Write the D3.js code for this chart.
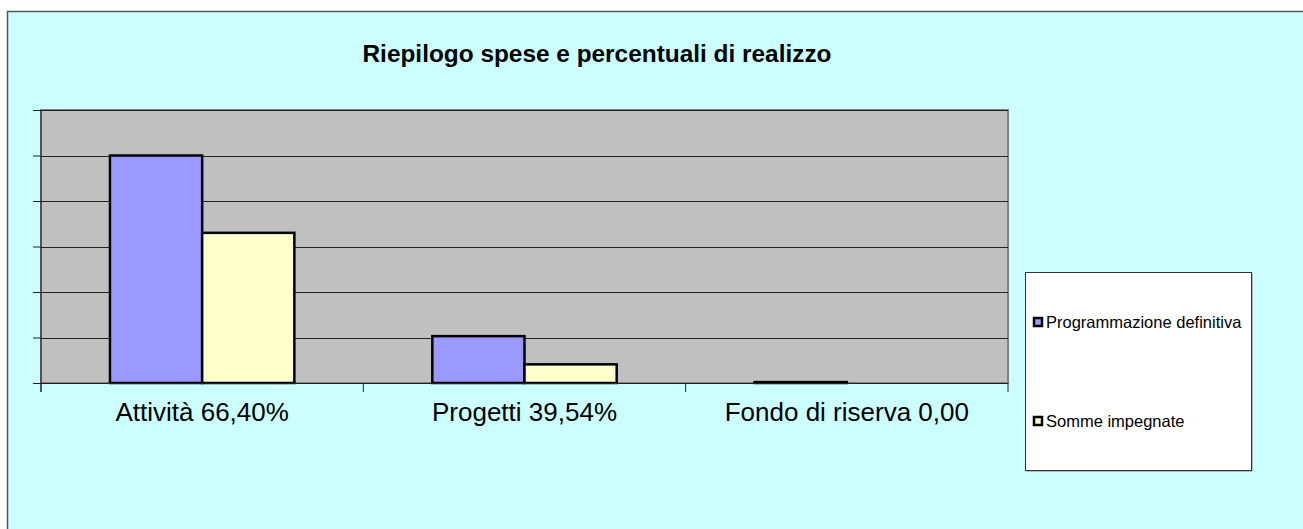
<!DOCTYPE html>
<html>
<head>
<meta charset="utf-8">
<script src="https://cdn.jsdelivr.net/npm/d3@7"></script>
<style>
  html, body { margin: 0; padding: 0; background: #fff; overflow: hidden; }
  svg { display: block; font-family: "Liberation Sans", Arial, sans-serif; }
</style>
</head>
<body>
<svg id="chart" width="1303" height="529"></svg>
<script>
// categories and series values (axis units, no labels shown)
const categories = ['Attività 66,40%', 'Progetti 39,54%', 'Fondo di riserva 0,00']
const seriesNames = ['Programmazione definitiva', 'Somme impegnate']
const programmazione = [5.0, 1.03, 0.02]
const impegnate = [3.3, 0.41, 0]
const yTicks = [0, 1, 2, 3, 4, 5, 6]

const colors = ['#9999ff', '#ffffcc']

const svg = d3.select('#chart')

// outer chart area
svg.append('rect')
  .attr('x', 7.5).attr('y', 11.5)
  .attr('width', 1400).attr('height', 600)
  .attr('fill', '#ccffff')
  .attr('stroke', '#555').attr('stroke-width', 1.5)

// title
svg.append('text')
  .attr('x', 597).attr('y', 62)
  .attr('text-anchor', 'middle')
  .attr('font-size', '24.4px')
  .attr('font-weight', 'bold')
  .text('Riepilogo spese e percentuali di realizzo')

const plot = { left: 41, right: 1008, top: 110, bottom: 383 }

const x0 = d3.scaleBand()
  .domain(categories)
  .range([plot.left, plot.right])
  .paddingInner(0.428)
  .paddingOuter(0.214)

const x1 = d3.scaleBand()
  .domain(seriesNames)
  .range([0, x0.bandwidth()])

const y = d3.scaleLinear()
  .domain([0, 6])
  .range([plot.bottom, plot.top])

// plot background
svg.append('rect')
  .attr('x', plot.left).attr('y', plot.top)
  .attr('width', plot.right - plot.left).attr('height', plot.bottom - plot.top)
  .attr('fill', '#c0c0c0')
  .attr('stroke', '#808080').attr('stroke-width', 2)

// gridlines
svg.append('g')
  .selectAll('line')
  .data(yTicks.slice(1))
  .join('line')
  .attr('x1', plot.left).attr('x2', plot.right)
  .attr('y1', (d) => Math.round(y(d)) + 0.5).attr('y2', (d) => Math.round(y(d)) + 0.5)
  .attr('stroke', '#222').attr('stroke-width', 1)

// y axis with no labels
const yAxis = svg.append('g')
  .attr('transform', `translate(${plot.left},0)`)
  .call(d3.axisLeft(y).tickValues(yTicks).tickSize(8).tickFormat(''))
yAxis.select('.domain').attr('stroke', '#222').attr('d', `M0,${plot.top}V${plot.bottom + 9}`)
yAxis.selectAll('.tick line').attr('stroke', '#222')

// bars
const rows = categories.map((c, i) => ({ cat: c, vals: [programmazione[i], impegnate[i]] }))
const groups = svg.append('g')
  .selectAll('g')
  .data(rows)
  .join('g')
  .attr('transform', (d) => `translate(${x0(d.cat)},0)`)

groups.selectAll('rect')
  .data((d) => d.vals.map((v, j) => ({ key: seriesNames[j], v, j })))
  .join('rect')
  .filter((d) => d.v > 0)
  .attr('x', (d) => x1(d.key))
  .attr('y', (d) => y(d.v))
  .attr('width', x1.bandwidth())
  .attr('height', (d) => y(0) - y(d.v))
  .attr('fill', (d) => colors[d.j])
  .attr('stroke', '#000').attr('stroke-width', 2.5)

// x axis
const step = x0.step()
const xBoundaries = d3.range(categories.length + 1).map((i) => plot.left + i * step)
const xAxis = svg.append('g')
xAxis.append('line')
  .attr('x1', plot.left - 8).attr('x2', plot.right)
  .attr('y1', plot.bottom + 0.5).attr('y2', plot.bottom + 0.5)
  .attr('stroke', '#222')
xAxis.selectAll('line.tk')
  .data(xBoundaries)
  .join('line')
  .attr('class', 'tk')
  .attr('x1', (d) => d).attr('x2', (d) => d)
  .attr('y1', plot.bottom).attr('y2', plot.bottom + 9)
  .attr('stroke', '#222')
xAxis.selectAll('text')
  .data(categories)
  .join('text')
  .attr('x', (d) => x0(d) + x0.bandwidth() / 2)
  .attr('y', 421)
  .attr('text-anchor', 'middle')
  .attr('font-size', '26px')
  .text((d) => d)

// legend
const legend = svg.append('g').attr('transform', 'translate(1025,272)')
legend.append('rect')
  .attr('x', 1.5).attr('y', 1.5).attr('width', 226).attr('height', 198)
  .attr('fill', '#808080')
legend.append('rect')
  .attr('x', 0.5).attr('y', 0.5).attr('width', 226).attr('height', 198)
  .attr('fill', '#fff').attr('stroke', '#333')
const items = legend.selectAll('g.item')
  .data(seriesNames)
  .join('g')
  .attr('class', 'item')
  .attr('transform', (d, i) => `translate(0,${i === 0 ? 50 : 149})`)
items.append('rect')
  .attr('x', 9).attr('y', -4).attr('width', 8).attr('height', 8)
  .attr('fill', (d, i) => colors[i])
  .attr('stroke', '#000').attr('stroke-width', 2.5)
items.append('text')
  .attr('x', 21).attr('y', 6)
  .attr('font-size', '16.5px')
  .text((d) => d)
</script>
</body>
</html>
